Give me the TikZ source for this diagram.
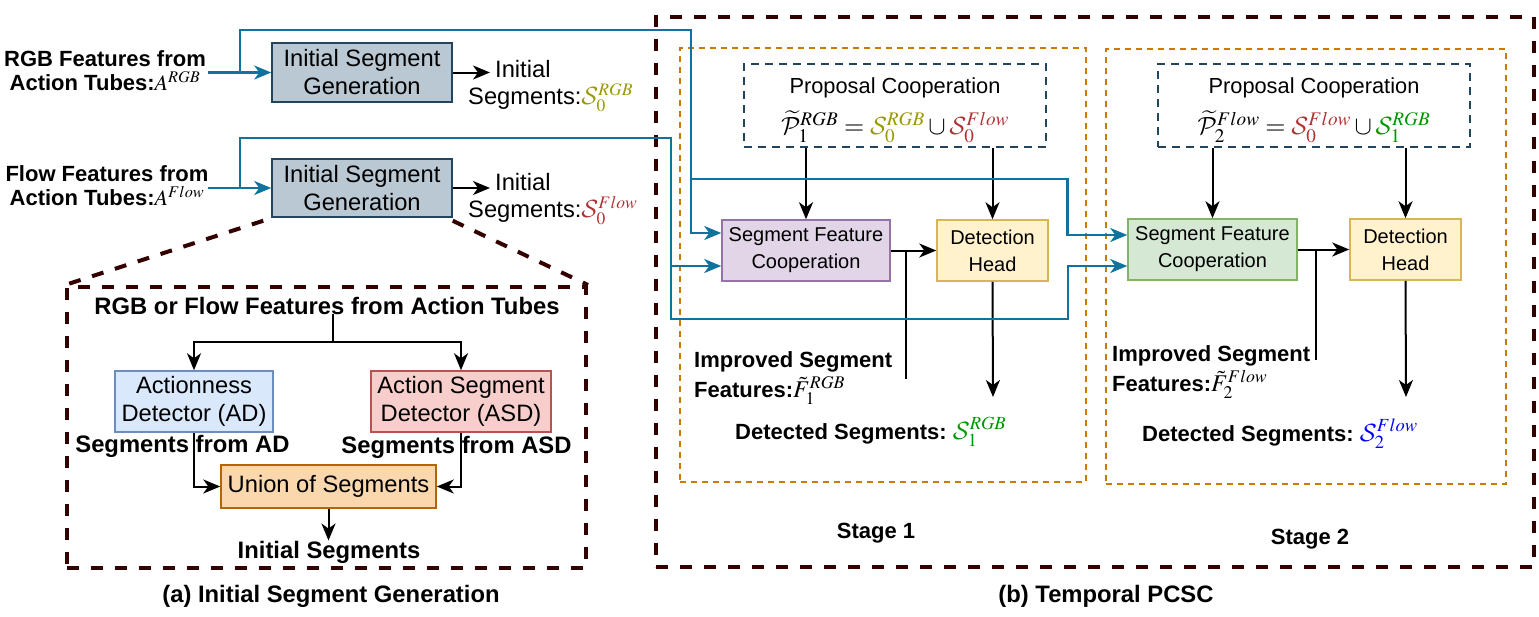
\documentclass[tikz,border=0pt]{standalone}
\usepackage{mathptmx}
\DeclareMathAlphabet{\mathcal}{OMS}{cmsy}{m}{n}
\usepackage[no-math]{fontspec}
\setmainfont{Liberation Sans}
\usetikzlibrary{arrows.meta,calc}
\definecolor{dk}{RGB}{51,0,0}
\definecolor{bl}{HTML}{10739E}
\definecolor{orn}{HTML}{CC7A00}
\definecolor{pcc}{HTML}{23445D}
\definecolor{isgf}{HTML}{BAC8D3}
\definecolor{isgd}{HTML}{23445D}
\definecolor{adf}{HTML}{DAE8FC}\definecolor{add}{HTML}{6C8EBF}
\definecolor{asdf}{HTML}{F8CECC}\definecolor{asdd}{HTML}{B85450}
\definecolor{unf}{HTML}{FAD7AC}\definecolor{und}{HTML}{B46504}
\definecolor{sfaf}{HTML}{E1D5E7}\definecolor{sfad}{HTML}{9673A6}
\definecolor{sfbf}{HTML}{D5E8D4}\definecolor{sfbd}{HTML}{82B366}
\definecolor{dhf}{HTML}{FFF2CC}\definecolor{dhd}{HTML}{D6B656}
\definecolor{olv}{RGB}{153,153,0}
\definecolor{rdd}{RGB}{178,50,50}
\definecolor{grn}{RGB}{0,150,0}
\definecolor{blu}{RGB}{0,0,255}
\tikzset{
 box/.style={draw, line width=1.5pt, inner sep=0pt, align=center, font=\fontsize{23.7}{28}\selectfont},
 sbox/.style={box, font=\fontsize{20}{27}\selectfont},
 lab/.style={inner sep=0pt, font=\fontsize{22}{24}\selectfont\bfseries},
 lab2/.style={inner sep=0pt, font=\fontsize{22}{27}\selectfont\bfseries},
 bigl/.style={inner sep=0pt, font=\fontsize{23.8}{28}\selectfont\bfseries},
 plain/.style={inner sep=0pt, font=\fontsize{23.7}{27}\selectfont},
 arr/.style={line width=2pt, -{Stealth[length=17pt,width=14pt,inset=5pt]}},
 ln/.style={line width=2pt},
 barr/.style={draw=bl, line width=2.5pt, -{Stealth[length=17pt,width=14pt,inset=5pt]}},
 bigd/.style={draw=dk, line width=4pt, dash pattern=on 12pt off 12pt},
 stg/.style={draw=orn, line width=2.5pt, dash pattern=on 6pt off 5pt},
 pcb/.style={draw=pcc, line width=2pt, dash pattern=on 8pt off 6pt, inner sep=0pt, align=center, font=\fontsize{21.8}{27}\selectfont},
}
\begin{document}
\begin{tikzpicture}[x=1pt,y=-1pt]
\useasboundingbox (0,0) rectangle (1539,616);

% big dashed boxes
\node[bigd, minimum width=519pt, minimum height=281pt] (bA) at (326.5,427.5) {};
\node[bigd, minimum width=878pt, minimum height=550pt] (bB) at (1095,292) {};
% stage boxes
\node[stg, minimum width=406pt, minimum height=434pt] (stg1) at (883,265) {};
\node[stg, minimum width=400pt, minimum height=435pt] (stg2) at (1306,266.5) {};

% left inputs
\node[lab, align=center, anchor=north] (lrgb) at (105,50) {RGB Features from\\Action Tubes:$A^{RGB}$};
\node[lab, align=center, anchor=north] (lflow) at (107,165) {Flow Features from\\Action Tubes:$A^{Flow}$};

\node[box, fill=isgf, draw=isgd, minimum width=180pt, minimum height=59pt] (isg1) at (362,72.5) {Initial Segment\\Generation};
\node[box, fill=isgf, draw=isgd, minimum width=180pt, minimum height=58pt] (isg2) at (362,188) {Initial Segment\\Generation};

\coordinate (o1) at (490,72.5);
\coordinate (o2) at (490,188);
\draw[arr] (isg1.east) -- (o1);
\draw[arr] (isg2.east) -- (o2);
\node[plain, align=left, anchor=north west] (orgb) at (468,60) {\hspace*{27pt}Initial\\Segments:{\color{olv}$\mathcal{S}_0^{RGB}$}};
\node[plain, align=left, anchor=north west] (oflow) at (468,173) {\hspace*{27pt}Initial\\Segments:{\color{rdd}$\mathcal{S}_0^{Flow}$}};

% stage 1
\node[pcb, minimum width=302pt, minimum height=83pt] (pc1) at (895,105.5) {\rule{0pt}{26pt}Proposal Cooperation\\[11pt]{\fontsize{26}{27}\selectfont$\widetilde{\mathcal{P}}_1^{RGB}={\color{olv}\mathcal{S}_0^{RGB}}\cup{\color{rdd}\mathcal{S}_0^{Flow}}$}};
\node[sbox, fill=sfaf, draw=sfad, minimum width=168pt, minimum height=61pt] (sfc1) at (806,250.5) {Segment Feature\\Cooperation};
\node[sbox, fill=dhf, draw=dhd, minimum width=111pt, minimum height=61pt] (dh1) at (992.5,250.5) {Detection\\Head};
\draw[arr] (pc1.south -| sfc1.north) -- (sfc1.north);
\draw[arr] (pc1.south -| dh1.north) -- (dh1.north);
\draw[arr] (sfc1.east) -- (dh1.west);
\coordinate (j1) at ($(sfc1.east)!0.34!(dh1.west)$);
\coordinate (e1) at (906,379);
\draw[ln] (j1) -- (j1 |- e1);
\coordinate (d1) at (993,397);
\draw[arr] (dh1.south) -- (d1);
\node[lab2, align=left, anchor=north west] (imp1) at (694,351) {Improved Segment\\[3pt]Features:{\fontsize{24}{26}\selectfont$\tilde{F}_1^{RGB}$}};
\node[lab, anchor=base west] (det1) at (735,439) {Detected Segments:\ {\fontsize{25}{27}\selectfont\color{grn}$\mathcal{S}_1^{RGB}$}};
\node[lab, anchor=base] (st1) at (876,538) {Stage 1};

% stage 2
\node[pcb, minimum width=312pt, minimum height=83pt] (pc2) at (1314,105.5) {\rule{0pt}{26pt}Proposal Cooperation\\[11pt]{\fontsize{26}{27}\selectfont$\widetilde{\mathcal{P}}_2^{Flow}={\color{rdd}\mathcal{S}_0^{Flow}}\cup{\color{grn}\mathcal{S}_1^{RGB}}$}};
\node[sbox, fill=sfbf, draw=sfbd, minimum width=169pt, minimum height=61pt] (sfc2) at (1212.5,249.5) {Segment Feature\\Cooperation};
\node[sbox, fill=dhf, draw=dhd, minimum width=111pt, minimum height=61pt] (dh2) at (1405.5,249.5) {Detection\\Head};
\draw[arr] (pc2.south -| sfc2.north) -- (sfc2.north);
\draw[arr] (pc2.south -| dh2.north) -- (dh2.north);
\draw[arr] (sfc2.east) -- (dh2.west);
\coordinate (j2) at ($(sfc2.east)!0.36!(dh2.west)$);
\coordinate (e2) at (1316,360);
\draw[ln] (j2) -- (j2 |- e2);
\coordinate (d2) at (1406,397);
\draw[arr] (dh2.south) -- (d2);
\node[lab2, align=left, anchor=north west] (imp2) at (1112,345) {Improved Segment\\[3pt]Features:{\fontsize{24}{26}\selectfont$\tilde{F}_2^{Flow}$}};
\node[lab, anchor=base west] (det2) at (1142,441) {Detected Segments:\ {\fontsize{25}{27}\selectfont\color{blu}$\mathcal{S}_2^{Flow}$}};
\node[lab, anchor=base] (st2) at (1310,544) {Stage 2};

% blue connectors
\coordinate (rs) at (208,72.5);
\coordinate (rb) at (240,72.5);
\coordinate (fs) at (208,188);
\coordinate (fb) at (240,188);
\draw[barr] (rs) -- (isg1.west);
\draw[barr] (fs) -- (isg2.west);
\draw[barr] (rb) |- (691,30) |- ($(sfc1.west)+(0,-17.5)$);
\draw[barr] (691,179) -| ($(sfc2.west)+(-60,-14.5)$) -- ($(sfc2.west)+(0,-14.5)$);
\draw[barr] (fb) |- (671,138) |- ($(sfc1.west)+(0,15.5)$);
\draw[barr] (671,266) |- (1068,319) |- ($(sfc2.west)+(0,16.5)$);

% zoom lines
\draw[bigd] ($(isg2.south west)+(-8,3)$) -- (bA.north west);
\draw[bigd] ($(isg2.south east)+(0,3)$) -- (bA.north east);

% box (a) contents
\node[bigl, anchor=base] (ttl) at (327,314) {RGB or Flow Features from Action Tubes};
\coordinate (tj) at (333,342);
\draw[ln] (ttl.south -| tj) -- (tj);
\node[box, fill=adf, draw=add, minimum width=158pt, minimum height=61pt] (ad) at (194,401.5) {Actionness\\Detector (AD)};
\node[box, fill=asdf, draw=asdd, minimum width=180pt, minimum height=61pt] (asd) at (461,401.5) {Action Segment\\Detector (ASD)};
\draw[arr] (tj) -| (ad.north);
\draw[arr] (tj) -| (asd.north);
\node[box, fill=unf, draw=und, minimum width=215pt, minimum height=43pt] (un) at (328.5,486.5) {Union of Segments};
\draw[arr] (ad.south) |- (un.west);
\draw[arr] (asd.south) |- (un.east);
\node[bigl, anchor=base] (segad) at (182.5,452) {Segments from AD};
\node[bigl, anchor=base] (segasd) at (456.5,453) {Segments from ASD};
\node[bigl, anchor=base] (inis) at (329,558) {Initial Segments};
\draw[arr] (un.south) -- (un.south |- inis.north);

% captions
\node[bigl, anchor=base] (capa) at (331,602) {(a) Initial Segment Generation};
\node[bigl, anchor=base] (capb) at (1106,602) {(b) Temporal PCSC};
\end{tikzpicture}
\end{document}
